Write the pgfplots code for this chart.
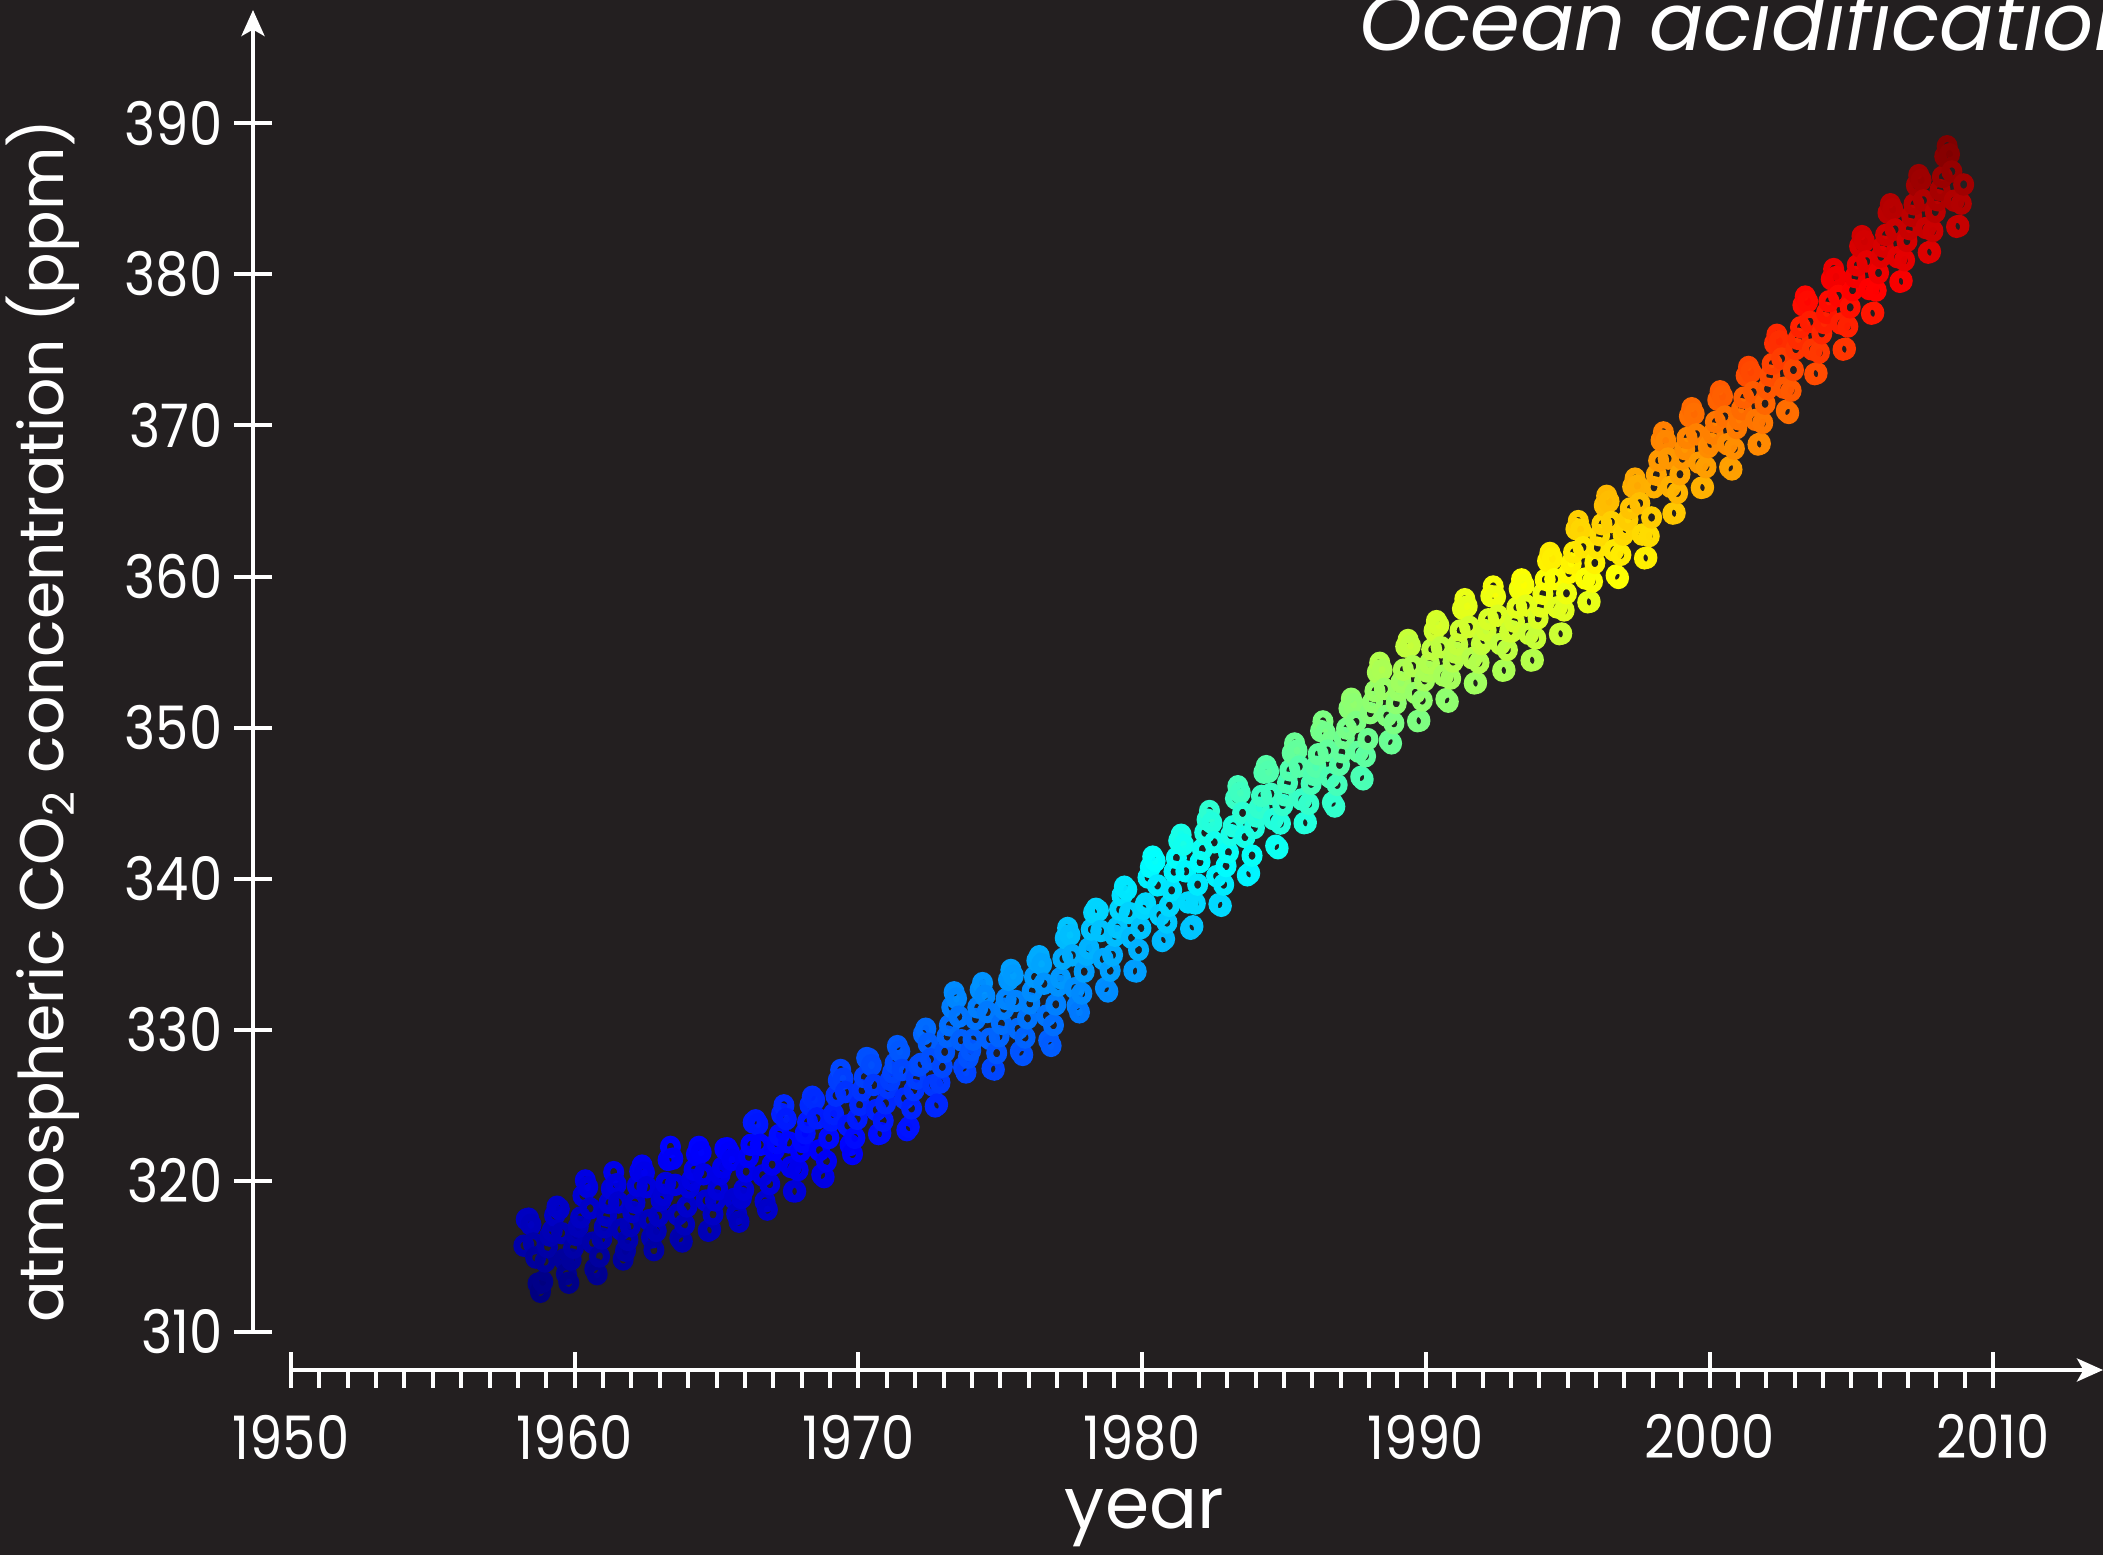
\documentclass[border=0pt]{standalone}
\usepackage{pgfplots}
\pgfplotsset{compat=1.18}
\usepackage{fontspec}
\setmainfont{Poppins}
\newfontfamily\tickfont[FakeStretch=0.88]{Poppins}
\usetikzlibrary{arrows.meta}
\definecolor{bg}{RGB}{35,31,32}

\begin{document}
\begin{tikzpicture}
\useasboundingbox (0,0) rectangle (525.75pt,388.75pt);
\clip (0,0) rectangle (525.75pt,388.75pt);
\fill[bg] (0,0) rectangle (525.75pt,388.75pt);
\begin{axis}[
  at={(72.75pt,55.75pt)}, anchor=south west,
  scale only axis, width=453pt, height=330.5pt,
  xmin=1950, xmax=2013.87, ymin=310, ymax=397.5,
  axis x line=bottom, axis y line=left,
  axis x line shift=9.5pt, axis y line shift=9.5pt,
  axis line style={white, line width=1pt},
  x axis line style={-{Stealth[length=6.5pt,width=5.75pt,inset=1.6pt]}},
  y axis line style={-{Stealth[length=6.5pt,width=5.75pt,inset=1.6pt]}},
  tick style={white, line width=1pt},
  tick align=outside, major tick length=4.5pt,
  xtick={1950,1951,...,2010}, xticklabels={},
  ytick=\empty,
  extra x ticks={1950,1960,1970,1980,1990,2000,2010},
  extra x tick labels={1950,1960,1970,1980,1990,2000,2010},
  extra x tick style={major tick length=9pt, tick align=center},
  extra y ticks={310,320,330,340,350,360,370,380,390},
  extra y tick labels={310,320,330,340,350,360,370,380,390},
  extra y tick style={major tick length=9.5pt, tick align=center},
  tick label style={font=\tickfont\fontsize{15}{18}\selectfont, text=white, inner sep=0pt},
  xticklabel style={anchor=north, yshift=-6.5pt},
  yticklabel style={anchor=east, xshift=-2.75pt},
  every axis x label/.style={at={(rel axis cs:0.471,-0.149)}, anchor=base},
  every axis y label/.style={at={(rel axis cs:-0.1258,0.462)}, rotate=90, anchor=base},
  every axis title/.style={at={(rel axis cs:0.5817,0.969)}, anchor=base west},
  xlabel={year},
  ylabel={atmospheric CO\textsubscript{2} concentration (ppm)},
  title={Ocean acidification},
  xlabel style={font=\fontsize{17.8}{21}\selectfont, text=white},
  ylabel style={font=\fontsize{15.4}{18}\selectfont, text=white},
  title style={font=\fontsize{20}{24}\selectfont\itshape, text=white},
  colormap={co2jet}{rgb(0cm)=(0,0,0.5); rgb(1cm)=(0,0,1); rgb(3cm)=(0,1,1);
    rgb(5cm)=(1,1,0); rgb(7cm)=(1,0,0); rgb(8cm)=(0.5,0,0)},
  point meta min=312.66, point meta max=388.48,
]
% Monthly mean CO2 at Mauna Loa, one line per year
\addplot[scatter, only marks, mark=o, mark size=1.75pt, point meta=y,
  scatter/use mapped color={draw=mapped color},
  mark options={line width=1.75pt, yscale=1.1}] coordinates {
(1958.208,315.71)(1958.292,317.45)(1958.375,317.50)(1958.458,317.10)(1958.542,315.86)(1958.625,314.93)(1958.708,313.20)(1958.792,312.66)(1958.875,313.33)(1958.958,314.67)
(1959.042,315.62)(1959.125,316.38)(1959.208,316.71)(1959.292,317.72)(1959.375,318.29)(1959.458,318.15)(1959.542,316.54)(1959.625,314.80)(1959.708,313.84)(1959.792,313.26)(1959.875,314.80)(1959.958,315.58)
(1960.042,316.43)(1960.125,316.97)(1960.208,317.58)(1960.292,319.02)(1960.375,320.03)(1960.458,319.59)(1960.542,318.18)(1960.625,315.91)(1960.708,314.16)(1960.792,313.83)(1960.875,315.00)(1960.958,316.19)
(1961.042,316.93)(1961.125,317.70)(1961.208,318.54)(1961.292,319.48)(1961.375,320.58)(1961.458,319.77)(1961.542,318.57)(1961.625,316.79)(1961.708,314.80)(1961.792,315.38)(1961.875,316.10)(1961.958,317.01)
(1962.042,317.94)(1962.125,318.56)(1962.208,319.68)(1962.292,320.63)(1962.375,321.01)(1962.458,320.55)(1962.542,319.58)(1962.625,317.40)(1962.708,316.26)(1962.792,315.42)(1962.875,316.69)(1962.958,317.69)
(1963.042,318.74)(1963.125,319.08)(1963.208,319.86)(1963.292,321.39)(1963.375,322.25)(1963.458,321.47)(1963.542,319.74)(1963.625,317.77)(1963.708,316.21)(1963.792,315.99)(1963.875,317.12)(1963.958,318.31)
(1964.042,319.57)(1964.125,320.07)(1964.208,320.73)(1964.292,321.77)(1964.375,322.25)(1964.458,321.89)(1964.542,320.44)(1964.625,318.70)(1964.708,316.70)(1964.792,316.79)(1964.875,317.79)(1964.958,318.71)
(1965.042,319.44)(1965.125,320.44)(1965.208,320.89)(1965.292,322.13)(1965.375,322.16)(1965.458,321.87)(1965.542,321.39)(1965.625,318.81)(1965.708,317.81)(1965.792,317.30)(1965.875,318.87)(1965.958,319.42)
(1966.042,320.62)(1966.125,321.59)(1966.208,322.39)(1966.292,323.87)(1966.375,324.01)(1966.458,323.75)(1966.542,322.39)(1966.625,320.37)(1966.708,318.64)(1966.792,318.10)(1966.875,319.79)(1966.958,321.08)
(1967.042,322.07)(1967.125,322.50)(1967.208,323.04)(1967.292,324.42)(1967.375,325.00)(1967.458,324.09)(1967.542,322.55)(1967.625,320.92)(1967.708,319.31)(1967.792,319.31)(1967.875,320.72)(1967.958,321.96)
(1968.042,322.57)(1968.125,323.15)(1968.208,323.89)(1968.292,325.02)(1968.375,325.57)(1968.458,325.36)(1968.542,324.14)(1968.625,322.03)(1968.708,320.41)(1968.792,320.25)(1968.875,321.31)(1968.958,322.84)
(1969.042,324.00)(1969.125,324.42)(1969.208,325.64)(1969.292,326.66)(1969.375,327.34)(1969.458,326.76)(1969.542,325.88)(1969.625,323.67)(1969.708,322.38)(1969.792,321.78)(1969.875,322.85)(1969.958,324.11)
(1970.042,325.03)(1970.125,325.99)(1970.208,326.87)(1970.292,328.13)(1970.375,328.07)(1970.458,327.66)(1970.542,326.35)(1970.625,324.69)(1970.708,323.10)(1970.792,323.16)(1970.875,323.98)(1970.958,325.13)
(1971.042,326.17)(1971.125,326.68)(1971.208,327.18)(1971.292,327.78)(1971.375,328.92)(1971.458,328.57)(1971.542,327.34)(1971.625,325.46)(1971.708,323.36)(1971.792,323.57)(1971.875,324.80)(1971.958,326.01)
(1972.042,326.77)(1972.125,327.63)(1972.208,327.75)(1972.292,329.72)(1972.375,330.07)(1972.458,329.09)(1972.542,328.05)(1972.625,326.32)(1972.708,324.93)(1972.792,325.06)(1972.875,326.50)(1972.958,327.55)
(1973.042,328.54)(1973.125,329.56)(1973.208,330.30)(1973.292,331.50)(1973.375,332.48)(1973.458,332.07)(1973.542,330.87)(1973.625,329.31)(1973.708,327.51)(1973.792,327.18)(1973.875,328.16)(1973.958,328.64)
(1974.042,329.35)(1974.125,330.71)(1974.208,331.48)(1974.292,332.65)(1974.375,333.09)(1974.458,332.25)(1974.542,331.18)(1974.625,329.40)(1974.708,327.43)(1974.792,327.37)(1974.875,328.46)(1974.958,329.57)
(1975.042,330.40)(1975.125,331.40)(1975.208,332.04)(1975.292,333.31)(1975.375,333.96)(1975.458,333.59)(1975.542,331.91)(1975.625,330.06)(1975.708,328.56)(1975.792,328.34)(1975.875,329.49)(1975.958,330.76)
(1976.042,331.75)(1976.125,332.56)(1976.208,333.50)(1976.292,334.58)(1976.375,334.87)(1976.458,334.34)(1976.542,333.05)(1976.625,330.94)(1976.708,329.30)(1976.792,328.94)(1976.875,330.31)(1976.958,331.68)
(1977.042,332.93)(1977.125,333.42)(1977.208,334.70)(1977.292,336.07)(1977.375,336.74)(1977.458,336.27)(1977.542,334.93)(1977.625,332.75)(1977.708,331.58)(1977.792,331.16)(1977.875,332.40)(1977.958,333.85)
(1978.042,334.97)(1978.125,335.39)(1978.208,336.64)(1978.292,337.76)(1978.375,338.01)(1978.458,337.89)(1978.542,336.54)(1978.625,334.68)(1978.708,332.76)(1978.792,332.54)(1978.875,333.92)(1978.958,334.95)
(1979.042,336.23)(1979.125,336.76)(1979.208,337.96)(1979.292,338.89)(1979.375,339.47)(1979.458,339.29)(1979.542,337.73)(1979.625,336.09)(1979.708,333.91)(1979.792,333.86)(1979.875,335.29)(1979.958,336.73)
(1980.042,338.01)(1980.125,338.36)(1980.208,340.08)(1980.292,340.77)(1980.375,341.46)(1980.458,341.17)(1980.542,339.56)(1980.625,337.60)(1980.708,335.88)(1980.792,336.01)(1980.875,337.10)(1980.958,338.21)
(1981.042,339.23)(1981.125,340.47)(1981.208,341.38)(1981.292,342.51)(1981.375,342.91)(1981.458,342.25)(1981.542,340.49)(1981.625,338.43)(1981.708,336.69)(1981.792,336.85)(1981.875,338.36)(1981.958,339.61)
(1982.042,341.10)(1982.125,341.96)(1982.208,343.05)(1982.292,343.91)(1982.375,344.48)(1982.458,343.70)(1982.542,342.41)(1982.625,340.17)(1982.708,338.32)(1982.792,338.21)(1982.875,339.61)(1982.958,340.84)
(1983.042,341.75)(1983.125,342.89)(1983.208,343.47)(1983.292,345.31)(1983.375,346.12)(1983.458,345.69)(1983.542,344.36)(1983.625,342.76)(1983.708,340.23)(1983.792,340.36)(1983.875,341.53)(1983.958,343.36)
(1984.042,344.12)(1984.125,344.70)(1984.208,345.48)(1984.292,347.02)(1984.375,347.45)(1984.458,347.08)(1984.542,345.62)(1984.625,343.95)(1984.708,342.18)(1984.792,342.02)(1984.875,343.65)(1984.958,344.88)
(1985.042,345.52)(1985.125,346.35)(1985.208,347.18)(1985.292,348.32)(1985.375,348.95)(1985.458,348.48)(1985.542,347.42)(1985.625,345.25)(1985.708,343.68)(1985.792,343.72)(1985.875,344.95)(1985.958,346.28)
(1986.042,346.88)(1986.125,347.41)(1986.208,348.24)(1986.292,349.78)(1986.375,350.41)(1986.458,349.64)(1986.542,348.48)(1986.625,346.71)(1986.708,345.04)(1986.792,344.78)(1986.875,346.21)(1986.958,347.54)
(1987.042,348.38)(1987.125,349.31)(1987.208,349.94)(1987.292,351.28)(1987.375,351.91)(1987.458,351.54)(1987.542,350.38)(1987.625,348.41)(1987.708,346.74)(1987.792,346.58)(1987.875,348.11)(1987.958,349.24)
(1988.042,350.96)(1988.125,351.69)(1988.208,352.42)(1988.292,353.66)(1988.375,354.29)(1988.458,353.82)(1988.542,352.56)(1988.625,350.79)(1988.708,349.12)(1988.792,348.96)(1988.875,350.29)(1988.958,351.62)
(1989.042,352.47)(1989.125,353.00)(1989.208,353.83)(1989.292,355.37)(1989.375,355.80)(1989.458,355.43)(1989.542,354.07)(1989.625,352.30)(1989.708,350.43)(1989.792,350.47)(1989.875,351.80)(1989.958,353.13)
(1990.042,353.72)(1990.125,354.25)(1990.208,355.18)(1990.292,356.42)(1990.375,357.05)(1990.458,356.78)(1990.542,355.32)(1990.625,353.45)(1990.708,351.88)(1990.792,351.72)(1990.875,353.25)(1990.958,354.38)
(1991.042,354.97)(1991.125,355.50)(1991.208,356.43)(1991.292,357.87)(1991.375,358.50)(1991.458,358.03)(1991.542,356.67)(1991.625,354.60)(1991.708,352.93)(1991.792,352.97)(1991.875,354.30)(1991.958,355.53)
(1992.042,355.81)(1992.125,356.44)(1992.208,357.17)(1992.292,358.71)(1992.375,359.34)(1992.458,358.67)(1992.542,357.41)(1992.625,355.54)(1992.708,353.77)(1992.792,353.81)(1992.875,355.14)(1992.958,356.37)
(1993.042,356.38)(1993.125,357.01)(1993.208,357.94)(1993.292,359.18)(1993.375,359.81)(1993.458,359.44)(1993.542,358.08)(1993.625,356.21)(1993.708,354.44)(1993.792,354.48)(1993.875,355.91)(1993.958,357.24)
(1994.042,358.03)(1994.125,358.86)(1994.208,359.79)(1994.292,361.03)(1994.375,361.56)(1994.458,361.19)(1994.542,359.83)(1994.625,357.96)(1994.708,356.19)(1994.792,356.23)(1994.875,357.76)(1994.958,358.89)
(1995.042,360.24)(1995.125,360.87)(1995.208,361.60)(1995.292,363.14)(1995.375,363.67)(1995.458,363.10)(1995.542,361.94)(1995.625,359.87)(1995.708,358.30)(1995.792,358.34)(1995.875,359.67)(1995.958,360.90)
(1996.042,361.91)(1996.125,362.74)(1996.208,363.47)(1996.292,364.71)(1996.375,365.34)(1996.458,364.97)(1996.542,363.61)(1996.625,361.74)(1996.708,360.07)(1996.792,359.91)(1996.875,361.44)(1996.958,362.77)
(1997.042,363.15)(1997.125,363.78)(1997.208,364.51)(1997.292,365.95)(1997.375,366.48)(1997.458,366.01)(1997.542,364.85)(1997.625,362.78)(1997.708,361.21)(1997.792,361.25)(1997.875,362.68)(1997.958,363.91)
(1998.042,365.91)(1998.125,366.74)(1998.208,367.67)(1998.292,369.01)(1998.375,369.54)(1998.458,368.97)(1998.542,367.81)(1998.625,365.94)(1998.708,364.17)(1998.792,364.21)(1998.875,365.54)(1998.958,366.77)
(1999.042,367.81)(1999.125,368.44)(1999.208,369.17)(1999.292,370.61)(1999.375,371.14)(1999.458,370.77)(1999.542,369.41)(1999.625,367.54)(1999.708,365.87)(1999.792,365.91)(1999.875,367.24)(1999.958,368.57)
(2000.042,368.79)(2000.125,369.46)(2000.208,370.23)(2000.292,371.69)(2000.375,372.26)(2000.458,371.93)(2000.542,370.59)(2000.625,368.76)(2000.708,367.23)(2000.792,367.09)(2000.875,368.46)(2000.958,369.83)
(2001.042,370.40)(2001.125,371.07)(2001.208,371.84)(2001.292,373.30)(2001.375,373.87)(2001.458,373.54)(2001.542,372.20)(2001.625,370.37)(2001.708,368.74)(2001.792,368.80)(2001.875,370.17)(2001.958,371.44)
(2002.042,372.43)(2002.125,373.30)(2002.208,374.07)(2002.292,375.43)(2002.375,376.00)(2002.458,375.57)(2002.542,374.43)(2002.625,372.50)(2002.708,370.97)(2002.792,370.83)(2002.875,372.30)(2002.958,373.67)
(2003.042,375.06)(2003.125,375.73)(2003.208,376.50)(2003.292,377.96)(2003.375,378.53)(2003.458,378.20)(2003.542,376.86)(2003.625,375.03)(2003.708,373.40)(2003.792,373.46)(2003.875,374.83)(2003.958,376.10)
(2004.042,376.78)(2004.125,377.45)(2004.208,378.22)(2004.292,379.68)(2004.375,380.35)(2004.458,379.82)(2004.542,378.58)(2004.625,376.75)(2004.708,375.02)(2004.792,375.08)(2004.875,376.55)(2004.958,377.82)
(2005.042,378.96)(2005.125,379.83)(2005.208,380.60)(2005.292,381.86)(2005.375,382.53)(2005.458,382.20)(2005.542,380.86)(2005.625,379.03)(2005.708,377.40)(2005.792,377.46)(2005.875,378.93)(2005.958,380.10)
(2006.042,381.17)(2006.125,381.84)(2006.208,382.61)(2006.292,384.07)(2006.375,384.64)(2006.458,384.31)(2006.542,382.97)(2006.625,381.14)(2006.708,379.51)(2006.792,379.57)(2006.875,380.94)(2006.958,382.21)
(2007.042,383.00)(2007.125,383.87)(2007.208,384.64)(2007.292,385.90)(2007.375,386.57)(2007.458,386.24)(2007.542,384.90)(2007.625,383.07)(2007.708,381.44)(2007.792,381.50)(2007.875,382.87)(2007.958,384.14)
(2008.042,384.91)(2008.125,385.58)(2008.208,386.45)(2008.292,387.81)(2008.375,388.48)(2008.458,387.95)(2008.542,386.81)(2008.625,384.88)(2008.708,383.15)(2008.792,383.21)(2008.875,384.68)(2008.958,385.95)
};
\end{axis}
\end{tikzpicture}
\end{document}
